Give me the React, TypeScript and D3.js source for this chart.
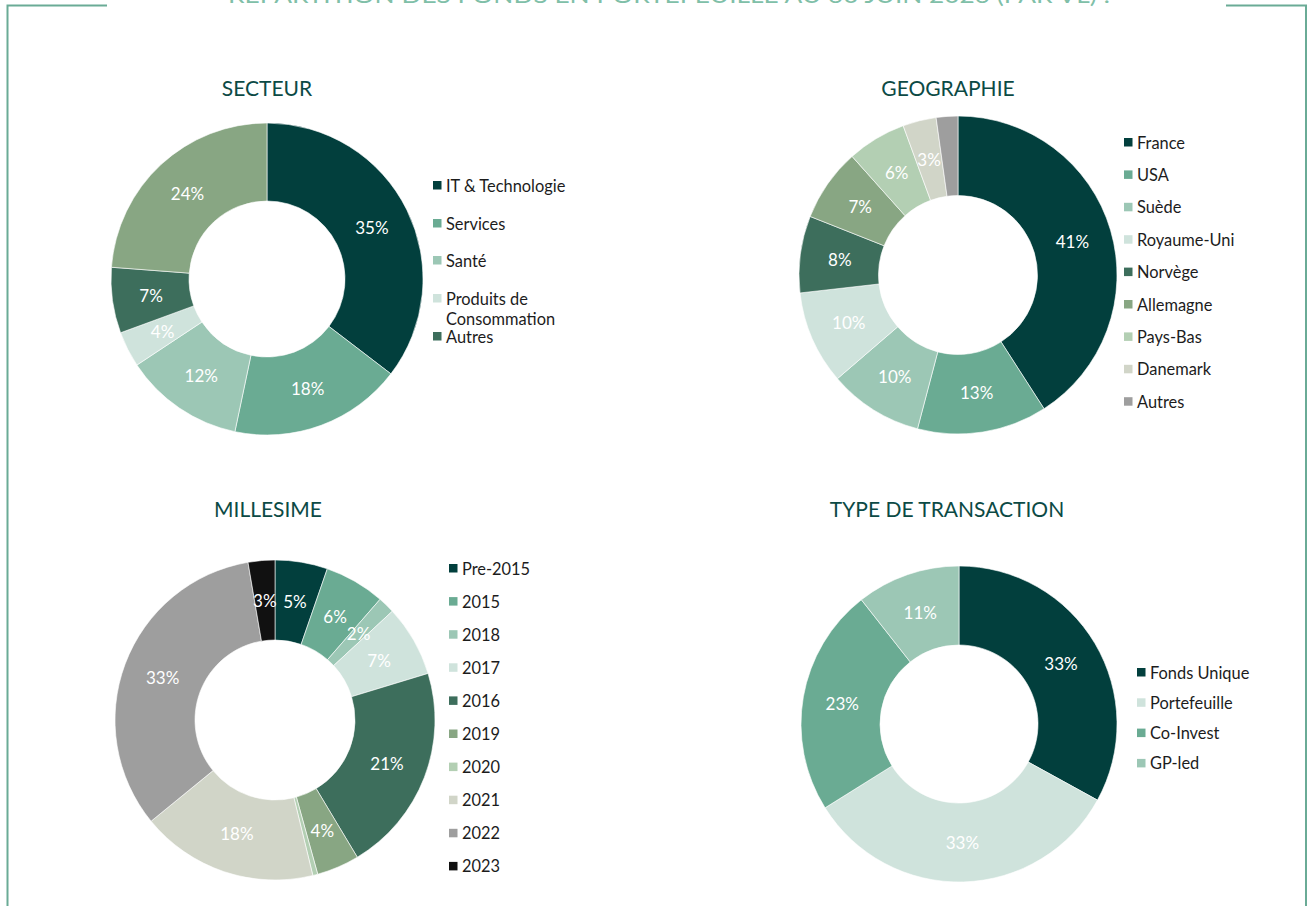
import React from "react";
import * as d3 from "d3";

const W = 1307;
const H = 906;

const pageTitle = "RÉPARTITION DES FONDS EN PORTEFEUILLE AU 30 JUIN 2023 (PAR VL) :";

// SECTEUR
const secteurCategories = ["IT & Technologie", "Services", "Santé", "Produits de Consommation", "Autres", "Industrie"];
const secteurValues = [35.4, 17.9, 12.4, 3.7, 6.8, 23.8];
const secteurColors = ["#023f3d", "#6aab93", "#9cc7b5", "#cfe3dc", "#3d6e5c", "#88a683"];
const secteurLegend = [
  ["IT & Technologie"],
  ["Services"],
  ["Santé"],
  ["Produits de", "Consommation"],
  ["Autres"],
];

// GEOGRAPHIE
const geoCategories = ["France", "USA", "Suède", "Royaume-Uni", "Norvège", "Allemagne", "Pays-Bas", "Danemark", "Autres"];
const geoValues = [40.9, 13.2, 9.6, 9.5, 7.8, 7.4, 6.0, 3.4, 2.2];
const geoColors = ["#023f3d", "#6aab93", "#9cc7b5", "#cfe3dc", "#3d6e5c", "#88a683", "#b3cfb3", "#d1d5c8", "#9e9e9e"];

// MILLESIME
const millesimeCategories = ["Pre-2015", "2015", "2018", "2017", "2016", "2019", "2020", "2021", "2022", "2023"];
const millesimeValues = [5.3, 6.1, 1.7, 7.2, 21.1, 4.3, 0.5, 17.9, 33.2, 2.7];
const millesimeColors = ["#023f3d", "#6aab93", "#9cc7b5", "#cfe3dc", "#3d6e5c", "#88a683", "#b3cfb3", "#d1d5c8", "#9e9e9e", "#111111"];

// TYPE DE TRANSACTION
const typeCategories = ["Fonds Unique", "Portefeuille", "Co-Invest", "GP-led"];
const typeValues = [33.0, 33.1, 23.3, 10.6];
const typeColors = ["#023f3d", "#cfe3dc", "#6aab93", "#9cc7b5"];

const FONT = "Lato, 'Open Sans', sans-serif";
const FRAME = "#6aab96";
const LEGEND_FS = 16.4;

type DonutProps = {
  title: string;
  titleX: number;
  titleY: number;
  cx: number;
  cy: number;
  r: number;
  values: number[];
  colors: string[];
  labelMin?: number;
};

function Donut({ title, titleX, titleY, cx, cy, r, values, colors, labelMin = 1 }: DonutProps) {
  const pie = d3.pie<number>().sort(null).value((d) => d)(values);
  const inner = r * 0.5;
  const arc = d3.arc<d3.PieArcDatum<number>>().innerRadius(inner).outerRadius(r);
  return (
    <g>
      <text x={titleX} y={titleY} textAnchor="middle" dominantBaseline="central"
        fontFamily={FONT} fontSize={21} fill="#0c4a45">{title}</text>
      <g transform={`translate(${cx},${cy})`}>
        {pie.map((p, i) => (
          <path key={i} d={arc(p) || ""} fill={colors[i]} stroke="#ffffff" strokeWidth={0.6} />
        ))}
        {pie.map((p, i) => {
          if (p.data < labelMin) return null;
          const [lx, ly] = arc.centroid(p);
          return (
            <text key={"l" + i} x={lx} y={ly} textAnchor="middle" dominantBaseline="central"
              fontFamily={FONT} fontSize={17} fill="#ffffff">{Math.round(p.data)}%</text>
          );
        })}
      </g>
    </g>
  );
}

type LegendProps = {
  x: number;
  y0: number;
  step: number;
  items: string[][];
  colors: string[];
  rowYs?: number[];
};

function Legend({ x, y0, step, items, colors, rowYs }: LegendProps) {
  return (
    <g>
      {items.map((lines, i) => {
        const y = rowYs ? rowYs[i] : y0 + i * step;
        return (
          <g key={i}>
            <rect x={x} y={y - 4} width={8.5} height={8.5} fill={colors[i]} />
            {lines.map((t, j) => (
              <text key={j} x={x + 13} y={y + j * 20} dominantBaseline="central"
                fontFamily={FONT} fontSize={LEGEND_FS} fill="#1c1c1c">{t}</text>
            ))}
          </g>
        );
      })}
    </g>
  );
}

export default function App() {
  return (
    <svg width={W} height={H} style={{ position: "absolute", left: 0, top: 0, background: "#ffffff" }}>
      {/* frame */}
      <path d={`M107,5.5 H7.5 V${H}`} fill="none" stroke={FRAME} strokeWidth={2} />
      <path d={`M1226,5.5 H1306 V${H}`} fill="none" stroke={FRAME} strokeWidth={2} />
      <text x={228} y={3} textLength={882} lengthAdjust="spacingAndGlyphs"
        fontFamily={FONT} fontSize={22} fill="#80bfa8">{pageTitle}</text>

      <Donut title="SECTEUR" titleX={267} titleY={87} cx={267} cy={279} r={156}
        values={secteurValues} colors={secteurColors} />
      <Legend x={433} y0={185} step={37.5} items={secteurLegend}
        colors={secteurColors} rowYs={[185, 223, 260, 298, 336]} />

      <Donut title="GEOGRAPHIE" titleX={948} titleY={87} cx={958} cy={275} r={159}
        values={geoValues} colors={geoColors} labelMin={2.5} />
      <Legend x={1124} y0={142} step={32.4} items={geoCategories.map((c) => [c])} colors={geoColors} />

      <Donut title="MILLESIME" titleX={268} titleY={508} cx={275} cy={720} r={160}
        values={millesimeValues} colors={millesimeColors} />
      <Legend x={449} y0={568} step={33.1} items={millesimeCategories.map((c) => [c])} colors={millesimeColors} />

      <Donut title="TYPE DE TRANSACTION" titleX={947} titleY={508} cx={959} cy={724} r={158}
        values={typeValues} colors={typeColors} />
      <Legend x={1137} y0={672} step={30.3} items={typeCategories.map((c) => [c])} colors={typeColors} />
    </svg>
  );
}
